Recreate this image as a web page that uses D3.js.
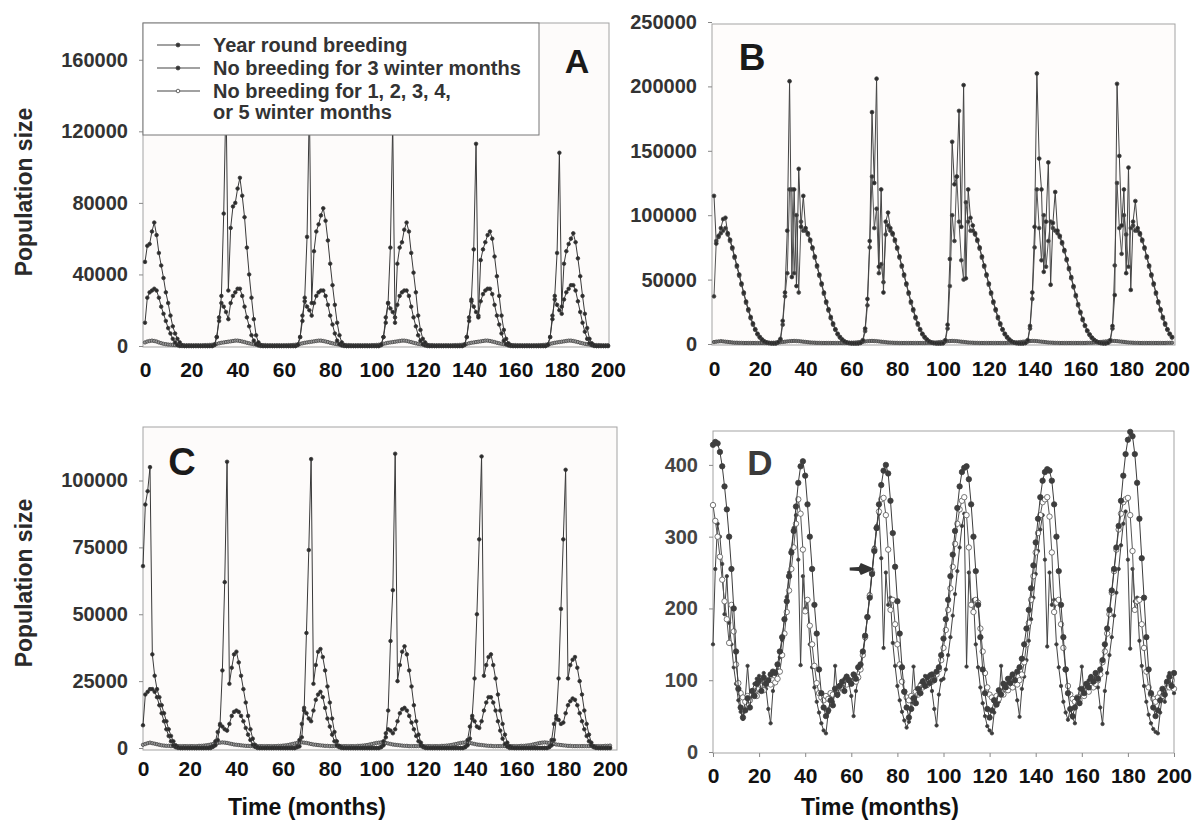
<!DOCTYPE html>
<html>
<head>
<meta charset="utf-8">
<script src="https://cdn.jsdelivr.net/npm/d3@7"></script>
<style>
body { margin: 0; background: #fff; }
text { font-family: "Liberation Sans", Arial, sans-serif; font-weight: bold; }
</style>
</head>
<body>
<svg width="1192" height="828"></svg>
<script>
// one value per month, 0..200. panels A-C in thousands, panel D in individuals
var months = d3.range(0, 201);
var xTicks = [0, 20, 40, 60, 80, 100, 120, 140, 160, 180, 200];

var legendLabels = ["Year round breeding", "No breeding for 3 winter months",
    "No breeding for 1, 2, 3, 4,", "or 5 winter months"];

// ---- panel A
var aYear = [
    47,56,57,64,69,62,52,45,38,30, 24,17,11,7,4,2,0.5,0,0,0, 0,0,0,0,0,0,0,0,0,0,
    0.8,5,14,28,74,140,31,66,78,80, 88,94,84,72,55,40,27,15,6,2, 0.5,0,0,0,0,0,0,0,0,0,
    0,0,0,0,0,0,0.8,5,14,27, 61,135,24,53,64,68,73,77,70,59, 46,34,23,13,6,2,0.5,0,0,0,
    0,0,0,0,0,0,0,0,0,0, 0,0,0.8,5,13,24,55,125,13,46, 55,58,65,69,64,52,41,30,17,9,
    4,2,0.5,0,0,0,0,0,0,0, 0,0,0,0,0,0,0,0,0.8,5, 14,26,54,113,16,48,54,58,62,64,
    60,50,39,28,17,9,4,1.5,0.4,0, 0,0,0,0,0,0,0,0,0,0, 0,0,0,0,0.8,5,15,28,52,108,
    22,46,53,57,60,63,58,49,39,28, 18,10,4,1.5,0.4,0,0,0,0,0, 0];
var aThree = [
    13,27,30,31,32,31,27,22,18,14, 10,7,4,2,0.5,0,0,0,0,0, 0,0,0,0,0,0,0,0,0,0,
    0.5,5,16,24,22,19,15,24,28,30, 32,32,28,22,16,11,6,3,1,0.3, 0,0,0,0,0,0,0,0,0,0,
    0,0,0,0,0,0,0.5,5,17,25, 22,20,17,24,28,30,31,31,28,23, 17,12,7,3,1,0.3,0,0,0,0,
    0,0,0,0,0,0,0,0,0,0, 0,0,0.5,5,16,24,21,19,16,23, 28,30,31,31,28,22,16,11,6,3,
    1,0.3,0,0,0,0,0,0,0,0, 0,0,0,0,0,0,0,0,0.5,5, 16,25,22,19,17,25,29,31,32,32,
    29,23,17,12,7,3,1,0.3,0,0, 0,0,0,0,0,0,0,0,0,0, 0,0,0,0,0.5,5,17,26,23,20,
    18,26,30,32,34,34,31,25,19,13, 8,4,1.5,0.5,0,0,0,0,0,0, 0];
var aVar = [
    2,2.5,2.8,3,2.8,2.5,2,1.6,1.2,1, 0.8,0.7,0.6,0.5,0.5,0.4,0.4,0.4,0.4,0.4,
    0.4,0.4,0.4,0.4,0.4,0.4,0.5,0.5,0.6,0.7, 0.9,1.2,1.5,1.8,2,2.2,2.4,2.6,2.8,3,
    3,2.8,2.5,2.2,1.8,1.5,1.2,1,0.8,0.7, 0.6,0.5,0.5,0.4,0.4,0.4,0.4,0.4,0.4,0.4,
    0.4,0.4,0.5,0.5,0.6,0.7,0.9,1.2,1.5,1.8, 2,2.2,2.4,2.6,2.8,3,3,2.8,2.5,2.2,
    1.8,1.5,1.2,1,0.8,0.7,0.6,0.5,0.5,0.4, 0.4,0.4,0.4,0.4,0.4,0.4,0.4,0.4,0.5,0.5,
    0.6,0.7,0.9,1.2,1.5,1.8,2,2.2,2.4,2.6, 2.8,3,3,2.8,2.5,2.2,1.8,1.5,1.2,1,
    0.8,0.7,0.6,0.5,0.5,0.4,0.4,0.4,0.4,0.4, 0.4,0.4,0.4,0.4,0.5,0.5,0.6,0.7,0.9,1.2,
    1.5,1.8,2,2.2,2.4,2.6,2.8,3,3,2.8, 2.5,2.2,1.8,1.5,1.2,1,0.8,0.7,0.6,0.5,
    0.5,0.4,0.4,0.4,0.4,0.4,0.4,0.4,0.4,0.4, 0.5,0.5,0.6,0.7,0.9,1.2,1.5,1.8,2,2.2,
    2.4,2.6,2.8,3,3,2.8,2.5,2.2,1.8,1.5, 1.2,1,0.8,0.7,0.6,0.5,0.5,0.4,0.4,0.4, 0.4];

// ---- panel B
var bYear = [
    115,78,84,90,97,98,86,81,75,68, 61,54,47,40,33,27,21,16,11.5,8, 5.5,3.5,2,1.2,0.8,0.6,0.5,0.6,1.5,4,
    18,40,88,204,52,120,45,136,91,115, 90,86,81,75,68,61,54,47,40,33, 27,21,16,11.5,8,5.5,3.5,2,1.2,0.8,
    0.6,0.5,0.5,0.6,1,3,12,35,80,180, 125,206,60,120,40,95,102,90,86,81, 75,68,61,54,47,40,33,27,21,16,
    11.5,8,5.5,3.5,2,1.2,0.8,0.6,0.5,0.5, 0.7,3,15,66,157,124,130,181,91,201, 51,120,98,92,86,81,75,68,61,54,
    47,40,33,27,21,16,11.5,8,5.5,3.5, 2,1.2,0.8,0.6,0.5,0.6,0.9,3,14,40, 91,210,144,120,56,95,141,46,94,118,
    88,84,79,73,66,59,52,45,38,31, 25,19.5,14.5,10.5,7.5,5,3.2,2,1.2,0.8, 0.6,0.6,1,3,14,38,202,146,92,120,
    55,137,42,95,111,90,86,81,75,68, 61,54,47,40,33,27,21,16,11.5,8, 5.5];
var bThree = [
    37,80,83,86,88,90,85,80,74,67, 60,53,46,39,32,26,20,15,11,7.5, 5,3.2,1.8,1.1,0.7,0.5,0.5,0.5,1.2,3,
    15,37,55,120,120,55,100,40,95,88, 88,85,80,74,67,60,53,46,39,32, 26,20,15,11,7.5,5,3.2,1.8,1.1,0.7,
    0.5,0.5,0.5,0.5,0.9,2,10,30,75,130, 90,105,55,62,48,85,92,88,85,80, 74,67,60,53,46,39,32,26,20,15,
    11,7.5,5,3.2,1.8,1.1,0.7,0.5,0.5,0.5, 0.6,2,12,45,100,80,130,95,65,50, 110,95,88,88,85,80,74,67,60,53,
    46,39,32,26,20,15,11,7.5,5,3.2, 1.8,1.1,0.7,0.5,0.5,0.5,0.8,2,12,35, 75,120,90,65,100,60,80,95,90,88,
    86,83,78,72,65,58,51,44,37,30, 24,18.5,14,10,7,4.8,3,1.8,1.1,0.7, 0.5,0.5,0.9,2,12,61,125,90,70,100,
    85,60,90,92,88,88,85,80,74,67, 60,53,46,39,32,26,20,15,11,7.5, 5];
var bVar = [
    1.5,1.8,2,2.2,2,1.8,1.6,1.4,1.2,1, 1,0.9,0.9,0.8,0.8,0.8,0.8,0.8,0.8,0.8,
    0.8,0.8,0.8,0.8,0.9,0.9,1,1.1,1.2,1.4, 1.6,1.8,2,2.2,2.3,2.4,2.3,2.2,2,1.8,
    1.6,1.4,1.2,1.1,1,0.9,0.9,0.8,0.8,0.8, 0.8,0.8,0.8,0.8,0.8,0.8,0.8,0.8,0.9,0.9,
    1,1.1,1.2,1.4,1.6,1.8,2,2.2,2.3,2.4, 2.3,2.2,2,1.8,1.6,1.4,1.2,1.1,1,0.9,
    0.9,0.8,0.8,0.8,0.8,0.8,0.8,0.8,0.8,0.8, 0.8,0.8,0.8,0.9,0.9,1,1.1,1.2,1.4,1.6,
    1.8,2,2.2,2.3,2.4,2.3,2.2,2,1.8,1.6, 1.4,1.2,1.1,1,0.9,0.9,0.8,0.8,0.8,0.8,
    0.8,0.8,0.8,0.8,0.8,0.8,0.8,0.8,0.9,0.9, 1,1.1,1.2,1.4,1.6,1.8,2,2.2,2.3,2.4,
    2.3,2.2,2,1.8,1.6,1.4,1.2,1.1,1,0.9, 0.9,0.8,0.8,0.8,0.8,0.8,0.8,0.8,0.8,0.8,
    0.8,0.8,0.8,0.9,0.9,1,1.1,1.2,1.4,1.6, 1.8,2,2.2,2.3,2.4,2.3,2.2,2,1.8,1.6,
    1.4,1.2,1.1,1,0.9,0.9,0.8,0.8,0.8,0.8, 0.8,0.8,0.8,0.8,0.8,0.8,0.8,0.8,0.9,0.9, 1];

// ---- panel C
var cYear = [
    68,91,96,105,35,27,22,19,16,13, 10,7,4.5,2.5,1,0.3,0,0,0,0, 0,0,0,0,0,0,0,0,0,0.3,
    0.6,1,3,9,29,62,107,24,30,35, 36,32,27,22,17,12,7,3.5,1.2,0.4, 0,0,0,0,0,0,0,0,0,0,
    0,0,0,0,0,0,0.3,0.6,4,14, 43,74,108,24,31,36,37,34,29,23, 17,11,6,2.5,0.8,0.3,0,0,0,0,
    0,0,0,0,0,0,0,0,0,0, 0,0,0.3,1,4,14,40,59,110,25, 31,36,38,35,29,23,16,10,5,2,
    0.6,0.2,0,0,0,0,0,0,0,0, 0,0,0,0,0,0,0,0,0.3,1, 3.5,12,26,50,78,109,27,31,34,35,
    31,26,20,14,9,5,2,0.6,0.2,0, 0,0,0,0,0,0,0,0,0,0, 0,0,0,0,0.3,1,3,11,26,52,
    78,104,26,31,33,34,30,25,20,14, 9,5,2,0.6,0.2,0,0,0,0,0, 0];
var cThree = [
    8.5,20,21,22,22,21,19,16,13,10, 7,4.5,2.5,1,0.3,0,0,0,0,0, 0,0,0,0,0,0,0,0,0,0,
    0.5,2.5,6,8.5,8,7,6.5,9,12,13.5, 14,13.5,12,10,7.5,5,3,1.2,0.4,0, 0,0,0,0,0,0,0,0,0,0,
    0,0,0,0,0,0,0.5,3,9,15, 13,11,10,14,18,20,21,19,15,11, 8,5,2.5,1,0.3,0,0,0,0,0,
    0,0,0,0,0,0,0,0,0,0, 0,0,0.5,2.5,5.5,7,6.5,5.5,7,10, 13,14.5,15,14,12,9.5,7,4.5,2.5,1,
    0.3,0,0,0,0,0,0,0,0,0, 0,0,0,0,0,0,0,0,0.5,3, 8,11,10,8,7.5,10,14,17,19,19,
    17,14,10,6.5,3.5,1.5,0.5,0,0,0, 0,0,0,0,0,0,0,0,0,0, 0,0,0,0,0.5,3,9,12,10.5,9,
    9.5,13,16,17.5,18.5,18,16,13,10,7, 4.5,2.5,1,0.3,0,0,0,0,0,0, 0];
var cVar = [
    1.2,1.5,1.8,2,1.8,1.6,1.4,1.2,1,0.9, 0.8,0.8,0.7,0.7,0.7,0.7,0.7,0.7,0.7,0.7,
    0.7,0.7,0.7,0.7,0.8,0.8,0.9,1,1.1,1.3, 1.5,1.7,1.9,2,2.1,2,1.9,1.7,1.5,1.3,
    1.2,1.1,1,0.9,0.8,0.8,0.7,0.7,0.7,0.7, 0.7,0.7,0.7,0.7,0.7,0.7,0.7,0.7,0.8,0.8,
    0.9,1,1.1,1.3,1.5,1.7,1.9,2,2.1,2, 1.9,1.7,1.5,1.3,1.2,1.1,1,0.9,0.8,0.8,
    0.7,0.7,0.7,0.7,0.7,0.7,0.7,0.7,0.7,0.7, 0.7,0.7,0.8,0.8,0.9,1,1.1,1.3,1.5,1.7,
    1.9,2,2.1,2,1.9,1.7,1.5,1.3,1.2,1.1, 1,0.9,0.8,0.8,0.7,0.7,0.7,0.7,0.7,0.7,
    0.7,0.7,0.7,0.7,0.7,0.7,0.7,0.7,0.8,0.8, 0.9,1,1.1,1.3,1.5,1.7,1.9,2,2.1,2,
    1.9,1.7,1.5,1.3,1.2,1.1,1,0.9,0.8,0.8, 0.7,0.7,0.7,0.7,0.7,0.7,0.7,0.7,0.7,0.7,
    0.7,0.7,0.8,0.8,0.9,1,1.1,1.3,1.5,1.7, 1.9,2,2.1,2,1.9,1.7,1.5,1.3,1.2,1.1,
    1,0.9,0.8,0.8,0.7,0.7,0.7,0.7,0.7,0.7, 0.7,0.7,0.7,0.7,0.7,0.7,0.7,0.7,0.8,0.8, 0.9];

// ---- panel D
var dFilled = [
    428,432,430,418,398,370,338,300,255,200, 140,88,62,48,58,75,62,85,78,95,
    100,85,104,95,100,108,112,110,122,140, 160,185,210,245,278,308,342,375,398,405,
    385,345,300,255,205,165,115,82,62,50, 58,72,65,88,80,92,98,85,105,100,
    95,108,102,118,122,140,162,188,215,248, 280,312,345,372,392,400,388,350,305,258,
    210,165,118,84,62,48,60,75,68,88, 82,98,92,104,96,108,100,112,118,135,
    158,185,212,245,275,308,340,370,390,396, 398,380,345,300,252,205,160,115,82,60,
    48,58,72,66,86,80,95,90,102,96, 108,100,112,118,130,150,172,198,228,260,
    292,325,355,378,390,394,392,378,345,300, 252,205,160,115,82,60,50,62,75,68,
    88,82,95,90,104,98,110,102,115,128, 150,172,198,225,255,285,315,350,385,415,
    435,446,440,415,375,325,270,215,160,115, 82,62,50,58,72,88,80,98,105,92, 110];
var dOpen = [
    344,322,300,272,240,210,185,152,205,168, 122,96,82,76,70,78,72,80,85,78,
    88,92,86,95,98,94,100,97,102,112, 135,165,195,225,255,285,318,352,332,282,
    196,212,176,150,120,96,82,76,72,78, 74,82,80,88,85,92,90,96,94,100,
    96,100,98,104,115,135,160,188,218,250, 282,312,335,352,354,330,282,198,212,178,
    150,122,98,84,76,72,78,74,84,80, 92,90,96,94,100,98,102,108,115,128,
    145,170,198,228,258,290,318,338,350,355, 330,285,205,195,212,208,172,140,110,90,
    80,76,72,78,74,84,80,88,86,92, 90,96,94,100,108,125,150,180,212,245,
    278,305,330,348,352,355,328,278,195,208, 212,178,145,115,92,80,74,70,76,72,
    82,78,86,84,92,90,95,100,108,125, 140,165,192,222,252,282,310,332,348,352,
    354,330,280,198,210,212,178,145,112,90, 80,74,70,76,82,78,88,96,90,100, 88];
var dSmall = [
    150,255,318,300,262,192,245,180,150,118, 95,72,56,46,75,120,78,86,95,102,
    106,92,110,88,60,40,85,100,114,132, 156,186,216,250,282,312,330,268,121,245,
    200,212,150,118,90,70,55,40,30,26, 55,75,70,120,78,88,96,102,106,95,
    78,50,85,102,115,135,158,188,220,252, 285,315,332,270,145,250,205,215,152,120,
    92,72,56,44,34,42,70,119,78,88, 95,100,106,92,108,85,60,37,80,100,
    102,115,135,160,190,220,252,285,315,332, 119,250,205,212,150,118,90,68,50,36,
    30,26,55,75,70,120,80,88,96,104, 108,95,72,49,88,105,128,155,185,215,
    248,280,310,330,268,147,250,205,212,150, 118,92,70,55,45,60,48,40,72,88,
    119,80,92,100,106,96,108,90,62,39, 85,110,135,160,190,222,255,288,318,335,
    268,144,255,210,215,155,120,92,70,52, 40,32,28,26,55,80,70,95,110,100, 82];

// arrow in panel D: [month, value] of tail and head
var arrowD = [[59.3, 255], [70.2, 255]];

var svg = d3.select('svg');

var thousands = d => d3.format('d')(d * 1000);

var panels = [
    { letter: 'A', lx: 577, ly: 73, lsize: 34, xRange: [145, 608], yRange: [346, 24], yMax: 180,
      frame: [143, 23, 609, 347], yTicks: [0, 40, 80, 120, 160], fmt: thousands, bg: '#fdfbfa',
      xTickSize: 0, xPad: 15,
      series: [
        { values: aVar, r: 1.7, fill: '#999', stroke: '#444' },
        { values: aThree, r: 1.8, fill: '#2b2b2b', stroke: '#3a3a3a' },
        { values: aYear, r: 1.8, fill: '#2b2b2b', stroke: '#3a3a3a' }] },
    { letter: 'B', lx: 752, ly: 70, lsize: 37, xRange: [714, 1172], yRange: [344, 22], yMax: 250,
      frame: [712, 24, 1175, 345], yTicks: [0, 50, 100, 150, 200, 250], fmt: thousands, bg: '#fefcfb',
      xTickSize: 0, xPad: 16,
      series: [
        { values: bVar, r: 1.7, fill: '#777', stroke: '#444' },
        { values: bThree, r: 1.9, fill: '#333', stroke: '#555' },
        { values: bYear, r: 1.9, fill: '#2b2b2b', stroke: '#444' }] },
    { letter: 'C', lx: 182, ly: 475, lsize: 38, xRange: [143, 610], yRange: [748, 427], yMax: 120,
      frame: [143, 427, 617, 750], yTicks: [0, 25, 50, 75, 100], fmt: thousands, bg: '#fdfbfa',
      xTickSize: 0, xPad: 11,
      series: [
        { values: cVar, r: 1.7, fill: '#999', stroke: '#444' },
        { values: cThree, r: 1.8, fill: '#2b2b2b', stroke: '#3a3a3a' },
        { values: cYear, r: 1.8, fill: '#2b2b2b', stroke: '#3a3a3a' }] },
    { letter: 'D', lx: 760, ly: 475, lsize: 35, xRange: [713, 1174], yRange: [752, 429], yMax: 450,
      frame: [713, 431, 1174, 753], yTicks: [0, 100, 200, 300, 400], fmt: d3.format('d'), bg: '#ffffff',
      xTickSize: 4, xPad: 11,
      series: [
        { values: dSmall, r: 1.7, fill: '#3a3a3a', stroke: '#444' },
        { values: dOpen, r: 2.7, fill: '#fff', stroke: '#555' },
        { values: dFilled, r: 2.7, fill: '#3d3d3d', stroke: '#3d3d3d' }] }
];

panels.forEach(function(p) {
    var x = d3.scaleLinear().domain([0, 200]).range(p.xRange);
    var y = d3.scaleLinear().domain([0, p.yMax]).range(p.yRange);
    var g = svg.append('g');
    p.x = x; p.y = y;

    g.append('rect')
        .attr('x', p.frame[0]).attr('y', p.frame[1])
        .attr('width', p.frame[2] - p.frame[0])
        .attr('height', p.frame[3] - p.frame[1])
        .attr('fill', p.bg)
        .attr('stroke', '#a3a3a3');

    var yAxis = d3.axisLeft(y).tickValues(p.yTicks).tickSize(4).tickPadding(11).tickFormat(p.fmt);
    var ya = g.append('g')
        .attr('class', 'y axis')
        .attr('transform', 'translate(' + p.frame[0] + ',0)')
        .call(yAxis);
    ya.select('.domain').remove();
    ya.selectAll('line').attr('stroke', '#888');
    ya.selectAll('text').attr('font-size', 20).attr('fill', p.letter == 'D' ? '#444' : '#333')
        .attr('font-family', '"Liberation Sans", Arial, sans-serif');

    var xAxis = d3.axisBottom(x).tickValues(xTicks).tickSize(p.xTickSize).tickPadding(p.xPad);
    var xa = g.append('g')
        .attr('class', 'x axis')
        .attr('transform', 'translate(0,' + p.frame[3] + ')')
        .call(xAxis);
    xa.select('.domain').remove();
    xa.selectAll('line').attr('stroke', '#888');
    xa.selectAll('text').attr('font-size', 21).attr('fill', '#111')
        .attr('font-family', '"Liberation Sans", Arial, sans-serif');

    var line = d3.line()
        .x((d, i) => x(months[i]))
        .y(d => y(d));

    p.series.forEach(function(s) {
        g.append('path')
            .datum(s.values)
            .attr('d', line)
            .attr('fill', 'none')
            .attr('stroke', s.stroke)
            .attr('stroke-width', 1);
        g.append('g').selectAll('circle')
            .data(s.values)
            .join('circle')
            .attr('cx', (d, i) => x(months[i]))
            .attr('cy', d => y(d))
            .attr('r', s.r)
            .attr('fill', s.fill)
            .attr('stroke', s.stroke)
            .attr('stroke-width', 0.8);
    });

    g.append('text')
        .attr('x', p.lx).attr('y', p.ly)
        .attr('text-anchor', 'middle')
        .attr('font-size', p.lsize)
        .attr('fill', p.letter == 'D' ? '#3a3a3a' : '#1a1a1a')
        .text(p.letter);
});

// legend of panel A, drawn over the spikes
var leg = svg.append('g');
leg.append('rect')
    .attr('x', 143).attr('y', 23).attr('width', 396).attr('height', 112)
    .attr('fill', '#fff').attr('stroke', '#777');
var legY = [52, 75, 98, 119];
legendLabels.forEach(function(t, i) {
    leg.append('text')
        .attr('x', 213).attr('y', legY[i])
        .attr('font-size', 20)
        .attr('fill', '#333')
        .text(t);
});
[0, 1, 2].forEach(function(i) {
    var cy = legY[i] - 7;
    leg.append('line').attr('x1', 157).attr('x2', 200).attr('y1', cy).attr('y2', cy)
        .attr('stroke', '#444').attr('stroke-width', 1.2);
    leg.append('circle').attr('cx', 178).attr('cy', cy).attr('r', i == 2 ? 1.8 : 2)
        .attr('fill', i == 2 ? '#fff' : '#333').attr('stroke', '#444').attr('stroke-width', 0.8);
});

// arrow annotation in panel D
var pD = panels[3];
var ax0 = pD.x(arrowD[0][0]), ax1 = pD.x(arrowD[1][0]), ay = pD.y(arrowD[0][1]);
svg.append('path')
    .attr('d', 'M' + ax0 + ',' + (ay - 1.5) + 'L' + (ax1 - 16) + ',' + (ay - 2) +
        'L' + (ax1 - 14) + ',' + (ay - 6) + 'L' + ax1 + ',' + ay +
        'L' + (ax1 - 14) + ',' + (ay + 6) + 'L' + (ax1 - 16) + ',' + (ay + 2) +
        'L' + ax0 + ',' + (ay + 1.5) + 'Z')
    .attr('fill', '#333');

// axis titles
[192, 583].forEach(function(cy) {
    svg.append('text')
        .attr('transform', 'translate(32,' + cy + ') rotate(-90)')
        .attr('text-anchor', 'middle')
        .attr('font-size', 23)
        .attr('fill', '#2a2a2a')
        .text('Population size');
});
[307, 880].forEach(function(cx) {
    svg.append('text')
        .attr('x', cx).attr('y', 815)
        .attr('text-anchor', 'middle')
        .attr('font-size', 23)
        .attr('fill', '#111')
        .text('Time (months)');
});
</script>
</body>
</html>
